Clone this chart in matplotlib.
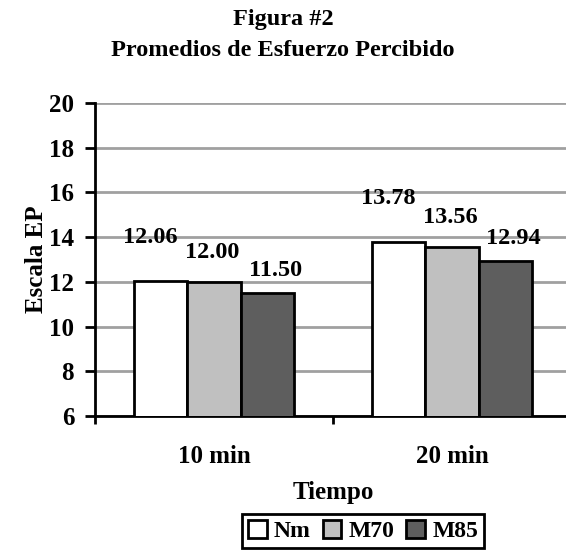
import matplotlib
matplotlib.use("Agg")
import matplotlib.pyplot as plt
import numpy as np

# datos
categorias = ["10 min", "20 min"]
series = ["Nm", "M70", "M85"]
nm = [12.06, 13.78]
m70 = [12.00, 13.56]
m85 = [11.50, 12.94]
y_ticks = [6, 8, 10, 12, 14, 16, 18, 20]

plt.rcParams["font.family"] = ["Liberation Serif", "DejaVu Serif"]
plt.rcParams["font.weight"] = "bold"

fig = plt.figure(figsize=(5.66, 5.6), dpi=100)
ax = fig.add_axes([95 / 566, 144 / 560, 476 / 566, 313 / 560])

x = np.arange(len(categorias))
w = 0.223
colores = ["white", "#c0c0c0", "#5e5e5e"]
valores = [nm, m70, m85]
# desplazamiento de etiquetas (px) como en el original
dx_lab = [-11, -2, 8]
dy_lab = [33, 19, 12]

barras = []
for i, (vals, c) in enumerate(zip(valores, colores)):
    b = ax.bar(x + (i - 1) * w, vals, w, color=c, edgecolor="black",
               linewidth=2, label=series[i], zorder=3)
    barras.append(b)
    for xi, v in zip(x + (i - 1) * w, vals):
        ax.annotate(f"{v:.2f}", (xi, v), xytext=(dx_lab[i], dy_lab[i]),
                    textcoords="offset pixels", ha="center", va="bottom",
                    fontsize=17.5, fontweight="bold")

ax.set_ylim(6, 20)
ax.set_xlim(-0.5, 1.5)
ax.set_yticks(y_ticks)
ax.set_yticklabels([str(t) for t in y_ticks], fontsize=18, fontweight="bold")
ax.yaxis.grid(True, color="#a0a0a0", linewidth=2)
ax.set_axisbelow(True)

ax.set_xticks([-0.5, 0.5, 1.5])
ax.set_xticklabels([])
ax.set_xticks(x, minor=True)
ax.set_xticklabels(categorias, minor=True, fontsize=18, fontweight="bold")
ax.tick_params(axis="x", which="minor", length=0, pad=21)
ax.tick_params(axis="x", which="major", length=6, width=2, direction="out")
ax.tick_params(axis="y", length=7, width=2, direction="out", pad=8)

for s in ["top", "right"]:
    ax.spines[s].set_visible(False)
for s in ["left", "bottom"]:
    ax.spines[s].set_linewidth(2)

ax.set_xlabel("Tiempo", fontsize=18, fontweight="bold", labelpad=9)
ax.set_ylabel("Escala EP", fontsize=18, fontweight="bold", labelpad=1)

fig.text(0.5, 1 - 19 / 560, "Figura #2", ha="center", va="center",
         fontsize=17.5, fontweight="bold")
fig.text(0.5, 1 - 50 / 560, "Promedios de Esfuerzo Percibido", ha="center",
         va="center", fontsize=17.5, fontweight="bold")

leg = fig.legend(handles=barras, loc="center", ncol=3,
                 bbox_to_anchor=(363 / 566, 1 - 531 / 560),
                 handlelength=0.8, handleheight=0.8, handletextpad=0.3,
                 columnspacing=0.5, borderpad=0.25, fancybox=False,
                 edgecolor="black", framealpha=1,
                 prop={"weight": "bold", "size": 17})
leg.get_frame().set_linewidth(2)

fig.savefig("out.png", dpi=100)
